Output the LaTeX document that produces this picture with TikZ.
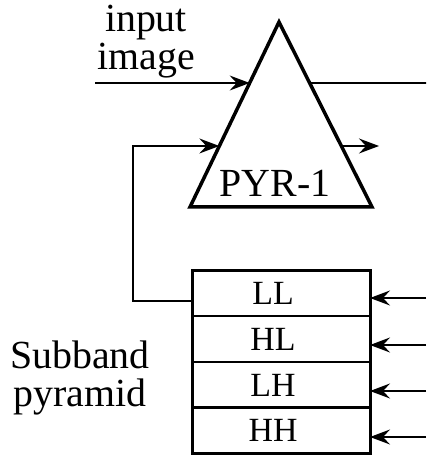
\documentclass[tikz,border=0pt]{standalone}
\usepackage{fontspec}
\setmainfont{Liberation Serif}
\usetikzlibrary{arrows.meta,calc}
\begin{document}
\begin{tikzpicture}[x=1bp,y=-1bp,
  big/.style={font=\fontsize{40}{40}\selectfont, inner sep=0pt},
  band/.style={draw, line width=1.2bp, minimum width=178bp, minimum height=46bp,
    inner sep=0pt, outer sep=0pt},
  bandtxt/.style={font=\fontsize{34}{34}\selectfont, inner sep=0pt},
  wire/.style={line width=1.6bp},
  tip/.style={-{Stealth[length=20bp,width=15bp,inset=7bp]}},
]
\useasboundingbox (0,0) rectangle (426,455);

% pyramid block
\coordinate (apex) at (279,22);
\coordinate (bl) at (190,207);
\coordinate (br) at (372,207);
\draw[line width=3.5bp, line join=miter] (apex) -- (bl) -- (br) -- cycle;
\node[big] (pyr) at (275,183) {PYR-1};

% points on the sides of the block
\coordinate (inL) at ($(apex)!61/185!(bl)$);
\coordinate (inR) at ($(apex)!61/185!(br)$);
\coordinate (fbL) at ($(apex)!124/185!(bl)$);
\coordinate (fbR) at ($(apex)!124/185!(br)$);

% input
\node[big, align=center] (inlbl) at (146,42) {input\\[-2pt]image};
\coordinate (inStart) at (95,83);
\coordinate (inEnd) at (426,83);
\draw[wire, tip] (inStart) -- (inL);
\draw[wire] (inR) -- (inEnd);

% output of the block
\coordinate (outEnd) at (379,146);
\draw[wire, tip] (fbR) -- (outEnd);

% subband pyramid
\node[band] (LL) at (281,293) {};
\node[band] (HL) at (281,339) {};
\node[band] (LH) at (281,385) {};
\node[band] (HH) at (281,430) {};
\node[bandtxt] at (273,293) {LL};
\node[bandtxt] at (273,339) {HL};
\node[bandtxt] at (273,385) {LH};
\node[bandtxt] at (273,430) {HH};
\draw[line width=3bp] (LL.north west) rectangle (HH.south east);
\node[big, align=center] (sblbl) at (80,378) {Subband\\[-2pt]pyramid};

% feedback from LL to the block
\coordinate (fbCorner) at (133,301);
\draw[wire, tip] (LL.west |- fbCorner) -- (fbCorner) -- (fbCorner |- fbL) -- (fbL);

% bands entering from the right
\foreach \b/\y in {LL/298,HL/345,LH/391,HH/437}{
  \coordinate (src\b) at (426,\y);
  \draw[wire, tip] (src\b) -- (\b.east |- src\b);
}
\end{tikzpicture}
\end{document}
